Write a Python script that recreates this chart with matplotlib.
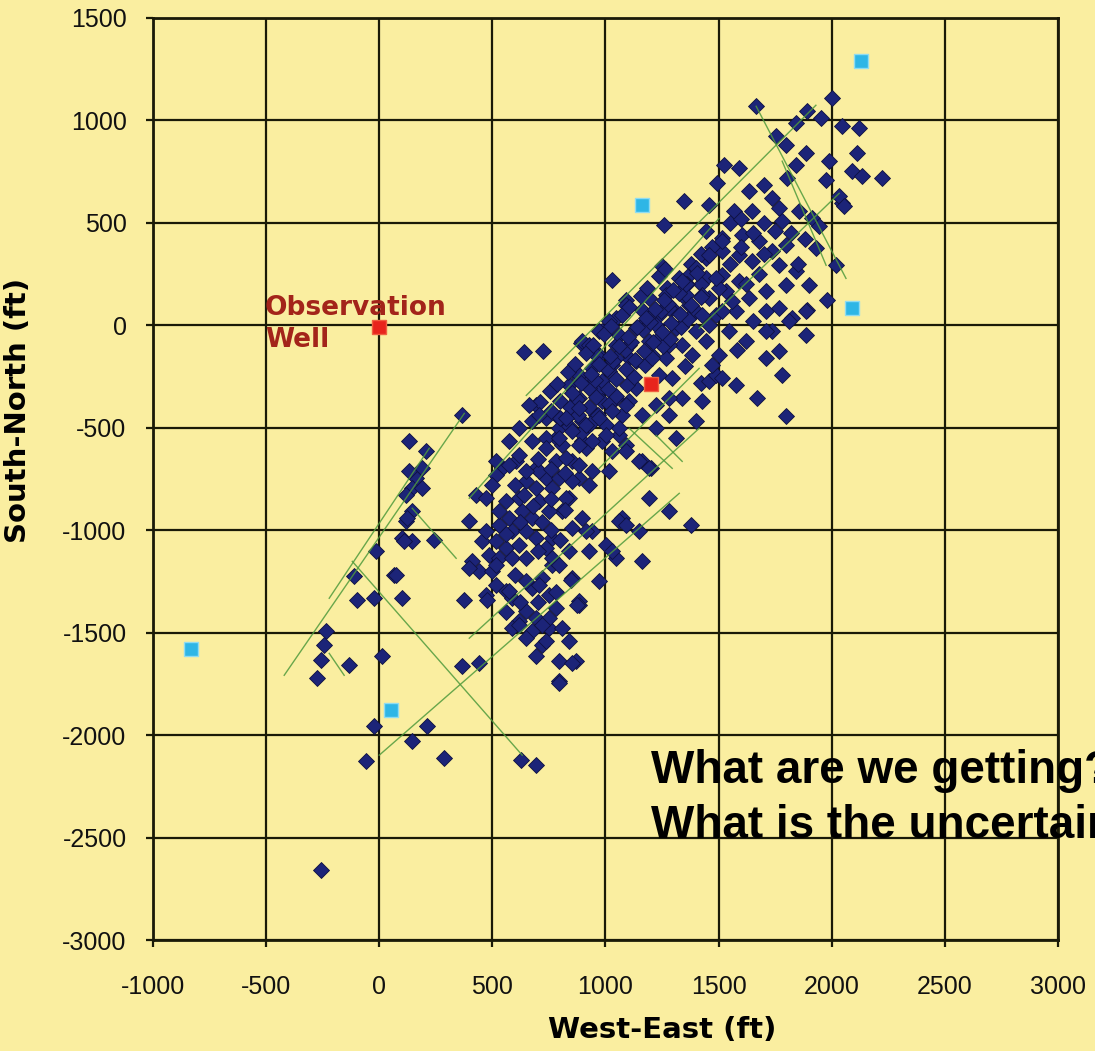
import matplotlib.pyplot as plt

plt.rcParams['font.family'] = ['Liberation Sans', 'DejaVu Sans']
plt.rcParams['axes.unicode_minus'] = False

# microseismic events, upper-right (NE) part of the cloud
upper_x = [1666, 2002, 1891, 1953, 1843, 2046, 2121, 1754, 1799, 1887, 2112, 1989, 1843, 2090, 2134, 2223,
           1525, 1591, 1494, 1635, 1348, 1458, 1259, 2046, 1975, 1701, 1803, 2033, 2055, 1737, 1569, 1648,
           1768, 1856, 1913, 1944, 1781, 1931, 2019, 1900, 1980, 1891, 1251, 1273, 1445, 1516, 1604, 1679,
           1445, 1516, 1591, 1648, 1737, 1799, 1768, 1843, 1799, 1710, 1370, 1339, 1445, 1516, 1533, 1591,
           1635, 1458, 1401, 1489, 1578, 1710, 1768, 1825, 1295, 1237, 1180, 1339, 1737,
           1380, 1420, 1470, 1550, 1600, 1650, 1700, 1750, 1680, 1620, 1560, 1500, 1420, 1360, 1550, 1600,
           1700, 1820, 1880, 1850, 1650, 1580, 1350, 1420]
upper_y = [1069, 1108, 1044, 1010, 986, 971, 961, 922, 878, 839, 839, 800, 781, 752, 727, 717,
           781, 766, 693, 654, 605, 586, 488, 595, 708, 683, 717, 630, 581, 620, 556, 556,
           571, 556, 522, 483, 508, 376, 293, 195, 122, 73, 288, 181, 459, 425, 439, 410,
           327, 361, 342, 312, 361, 390, 293, 264, 195, 166, 244, 146, 229, 244, 166, 215,
           132, 132, 68, 49, 68, 68, 83, 34, 83, 49, 20, 0, -29,
           300, 350, 380, 300, 380, 450, 500, 460, 250, 200, 120, 180, 200, 200, 500, 520,
           350, 450, 420, 300, 20, -120, -200, -280]

# events in the middle of the cloud (around the treatment well)
center_x = [641, 725, 893, 1030, 1091, 1162, 1295, 1339, 1427, 1458, 1401, 1282, 1224, 1312, 1162, 1202,
            1282, 1136, 1224, 1105, 1047, 1502, 1489, 1670, 1799, 1781, 1710, 1622, 1768, 1578, 1516, 1472,
            1383, 1445, 1458, 1887, 1887, 1812, 1710, 1547, 1193, 1282, 1379, 1047, 1074, 1149, 1003, 941,
            884, 871, 795, 1016, 1149, 1193, 1091, 928, 840, 884, 809, 897, 765, 840, 765, 928,
            1091, 1282, 1370, 1312, 1237, 1339, 1401, 897, 840, 884, 972, 1030, 972, 1047, 1105, 941,
            985, 1237, 1193, 1047, 1206, 1268, 782, 915, 985, 795, 871, 928, 1003,
            1326, 1401, 1458, 1516, 1357, 1427, 1489, 1516, 1427, 1224, 1136, 1193, 1105, 1282, 1047, 1136,
            1016, 959, 985, 928, 884, 884, 985, 959, 897, 840, 795, 738, 694, 676, 738, 809,
            897, 853, 782, 694, 605, 544, 1061, 1074, 1162, 1061, 1016, 972, 928, 1193, 1268]
center_y = [-132, -127, -88, 220, 122, 73, -259, -356, -371, -273, -468, -439, -503, -551, -664, -698,
            -356, -307, -390, -371, -356, -146, -244, -356, -444, -244, -161, -78, -127, -293, -259, -195,
            -146, -78, 0, 68, -49, 20, -29, -29, -844, -908, -976, -1137, -942, -1005, -1074, -1005,
            -1347, -1640, -1737, -712, -664, -698, -586, -781, -844, -747, -908, -942, -1039, -1103, -1171, -1103,
            98, 83, 98, -15, -63, -98, -29, -78, -293, -259, -322, -195, -146, -98, -161, -210,
            -29, -244, 34, 34, -146, -161, -551, -600, -566, -454, -405, -488, -488,
            229, 278, 342, 410, 146, 146, 229, 68, 49, 0, -15, -78, -98, -98, -161, -176,
            -224, -146, -273, -273, -244, -356, -371, -439, -468, -439, -503, -454, -390, -468, -551, -586,
            -566, -664, -664, -698, -664, -698, -537, -439, -439, -49, 20, -29, -98, 132, 146]

# dense core of the cloud
core_x = [800, 845, 875, 925, 955, 1005, 1035, 1085, 1115, 1165, 1195, 1245, 1275, 1325, 1355, 1405,
          890, 935, 965, 1015, 1045, 1095, 1125, 1175, 1205, 1255, 1285, 1335, 1365,
          710, 755, 785, 835, 865, 915, 945, 995, 1025, 1075, 1105, 1155, 1185, 1235, 1265,
          760, 800, 850, 890, 935, 970, 1020, 1060, 1100, 1140, 1180, 1220, 1260, 1300, 1340,
          840, 880, 925, 960, 1010, 1045, 1090, 1130, 1170, 1210, 1250, 1290, 1330, 1380, 1420]
core_y = [-450, -400, -360, -305, -265, -212, -172, -120, -80, -25, 15, 68, 105, 160, 200, 255,
          -527, -475, -438, -382, -345, -290, -250, -195, -158, -102, -65, -10, 30,
          -373, -320, -285, -228, -190, -135, -98, -40, -5, 52, 90, 145, 182, 240, 275,
          -420, -370, -330, -280, -240, -190, -150, -100, -55, -10, 35, 80, 125, 170, 215,
          -490, -440, -400, -350, -310, -260, -215, -170, -125, -80, -35, 10, 55, 100, 140]

# events in the lower (SW) part of the cloud
lower_x = [367, 133, 208, 164, 133, 190, 146, 190, 119, 146, 119, 102, 146, 243, 66, 102,
           429, 398, 376, 517, 455, 411, 486, 442, 499, 517, 473, 561, 588,
           473, 530, 517, 574, 588, 561, 619, 650, 530, 588, 632, 676, 707, 619, 561, 530, 694,
           738, 650, 765, 795, 694, 650, 738, 765, 826, 751, 795, 853, 707, 650,
           676, 738, 795, 853, 915, 972, 1030, 1091, 884, 941, 1003, 1061, 1030, 1091, 826, 884,
           941, 826, 884, 707, 663, 619, 574, 619, 574, 517, 499, 473,
           853, 915, 1030, 1061, 1091, 972, 884, 853, 720, 676, 751, 650, 694, 619, 588, 676,
           751, 809, 720, 840, 650, 477, 398, 517, 782, 751, 738, 694, 795, 853, 795, 849,
           1162, 875, 707, 574, 619, 720,
           600, 640, 680, 720, 760, 800, 560, 620, 700, 760, 820, 700, 760, 820, 600, 650,
           700, 780, 560, 620]
lower_y = [-439, -566, -615, -747, -712, -698, -795, -795, -830, -908, -956, -1039, -1054, -1049, -1220, -1332,
           -830, -956, -1342, -664, -1054, -1152, -1122, -1200, -1200, -1269, -1318, -1298, -1332,
           -1005, -976, -1054, -942, -1005, -1088, -1074, -1005, -1137, -1137, -908, -942, -859, -844, -859, -908, -1039,
           -1088, -1137, -1137, -1171, -795, -761, -747, -795, -844, -908, -747, -761, -712, -712,
           -566, -600, -551, -517, -488, -454, -420, -390, -586, -566, -537, -503, -615, -615, -649, -683,
           -712, -454, -405, -439, -390, -503, -566, -634, -683, -732, -781, -844,
           -991, -1005, -1103, -956, -976, -1249, -1366, -1235, -1235, -1283, -1318, -1396, -1430, -1445, -1479, -1493,
           -1479, -1479, -1562, -1542, -1527, -1342, -1186, -1171, -1381, -1430, -1542, -1615, -1640, -1649, -1747, -1244,
           -1152, -1366, -1269, -1298, -1464, -1464,
           -780, -830, -880, -960, -1000, -1050, -1020, -960, -1100, -850, -900, -650, -700, -720, -1220, -1250,
           -1350, -1300, -1400, -1350]

# scattered events on the west / south side
west_x = [124, 110, -13, -110, 75, -22, -97, -234, -243, -256, -133, -274, 13, -22, -57, 212,
          146, 287, 367, 442, 627, 694, -256]
west_y = [-942, -1054, -1103, -1225, -1220, -1332, -1342, -1493, -1562, -1635, -1659, -1723, -1615, -1957, -2128, -1957,
          -2030, -2113, -1664, -1649, -2123, -2147, -2660]

# geophone / offset well positions
cyan_x = [2130, 1160, 2090, -830, 50]
cyan_y = [1290, 585, 85, -1580, -1875]

# observation well and treatment point
red_x = [0, 1200]
red_y = [-10, -285]

# interpreted fracture lines (start x, start y, end x, end y)
frac_x0 = [-420, -221, 0, 398, 398, 650, 1414, 972, 1666, 1781, -119, -221, 1105, 1224, 146]
frac_y0 = [-1708, -1332, -2098, -1527, -844, -342, -15, -698, 1069, 801, -1152, -1601, -503, -537, -893]
frac_x1 = [376, 221, 1326, 1414, 1502, 1930, 2033, 1414, 2063, 1975, 632, -155, 1295, 1339, 340]
frac_y1 = [-430, -600, -820, -503, 522, 1074, 644, -210, 229, 293, -2098, -1708, -698, -664, -1137]

bg = '#FAEEA0'
fig = plt.figure(figsize=(10.95, 10.51), dpi=100, facecolor=bg)
ax = fig.add_axes([0.1397, 0.1056, 0.8265, 0.8773], facecolor=bg)

ax.set_xlim(-1000, 3000)
ax.set_ylim(-3000, 1500)
ax.set_xticks(range(-1000, 3001, 500))
ax.set_yticks(range(-3000, 1501, 500))
ax.grid(True, color='#1a1a08', linewidth=1.6, zorder=0)
ax.set_axisbelow(True)
for s in ax.spines.values():
    s.set_linewidth(2)
    s.set_color('#1a1a08')
ax.tick_params(axis='both', length=5, width=1.6, color='#1a1a08', labelsize=18, labelcolor='#111111')
ax.tick_params(axis='y', pad=14)
ax.tick_params(axis='x', pad=20)

navy = '#1c2478'
for xs, ys in [(upper_x, upper_y), (center_x, center_y), (core_x, core_y), (lower_x, lower_y), (west_x, west_y)]:
    ax.plot(xs, ys, linestyle='none', marker='D', ms=8, color=navy, mec='#0e1040', mew=0.6, zorder=3)

for x0, y0, x1, y1 in zip(frac_x0, frac_y0, frac_x1, frac_y1):
    ax.plot([x0, x1], [y0, y1], color='#4f9a3c', linewidth=1.0, alpha=0.85, zorder=4)

ax.plot(cyan_x, cyan_y, linestyle='none', marker='s', ms=10, color='#2eb6e6', mec='#8fdcf2', mew=1, zorder=5)
ax.plot(red_x, red_y, linestyle='none', marker='s', ms=10, color='#e8241c', mec='#f06040', mew=1, zorder=5)

ax.text(-505, 5, 'Observation\nWell', color='#a3241a', fontsize=19, fontweight='bold',
        family='DejaVu Sans', ha='left', va='center', linespacing=1.3, zorder=6)

fig.text(662 / 1095, 1 - 1030 / 1051, 'West-East (ft)', fontsize=21, fontweight='bold',
         family='DejaVu Sans', ha='center', va='center')
fig.text(18 / 1095, 1 - 410 / 1051, 'South-North (ft)', fontsize=21, fontweight='bold',
         family='DejaVu Sans', ha='center', va='center', rotation=90)

fig.text(651 / 1095, 1 - 783 / 1051, 'What are we getting?', fontsize=33, fontweight='bold',
         ha='left', va='baseline')
fig.text(651 / 1095, 1 - 838 / 1051, 'What is the uncertainty?', fontsize=33, fontweight='bold',
         ha='left', va='baseline')

fig.savefig('out.png', dpi=100, facecolor=bg)
